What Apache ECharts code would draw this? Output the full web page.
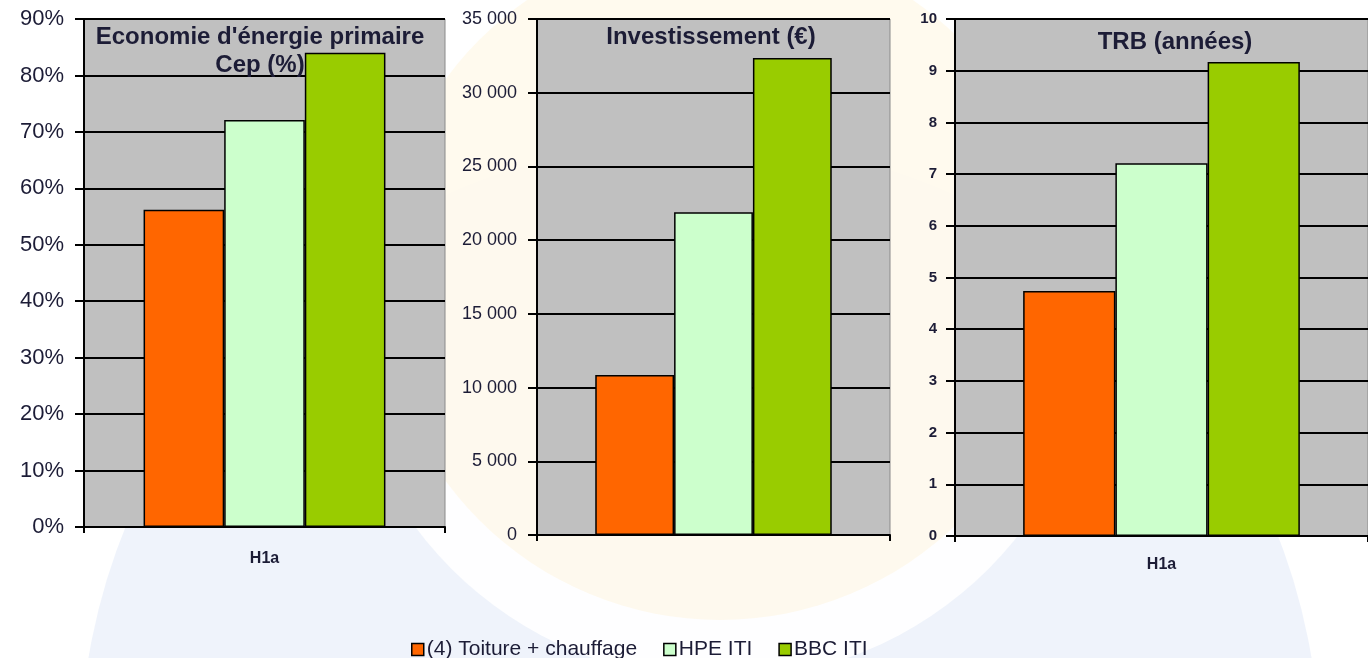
<!DOCTYPE html>
<html>
<head>
<meta charset="utf-8">
<title>H1a</title>
<script src="https://cdn.jsdelivr.net/npm/echarts@6/dist/echarts.min.js"></script>
<style>
  html, body { margin: 0; padding: 0; background: #fff; }
  #main { width: 1368px; height: 658px; }
</style>
</head>
<body>
<div id="main"></div>
<script>
// données
var categories = ['H1a'];
var seriesNames = ['(4) Toiture + chauffage', 'HPE ITI', 'BBC ITI'];
var seriesColors = ['#FF6600', '#CCFFCC', '#99CC00'];
var energySaving = [56.2, 72.1, 84.0];      // %
var investment = [10850, 21900, 32350];     // €
var payback = [4.74, 7.21, 9.17];           // années
var panelTitles = ["Economie d'énergie primaire\nCep (%)", 'Investissement (€)', 'TRB (années)'];

var ink = '#1c1c36';
var font = '"Liberation Sans", Arial, sans-serif';

function thousands(v) {
    return String(v).replace(/\B(?=(\d{3})+(?!\d))/g, ' ');
}

var grids = [
    { left: 84, top: 19, width: 361, height: 508 },
    { left: 537, top: 19, width: 353, height: 516 },
    { left: 955, top: 19, width: 420, height: 517 }
];

var yAxes = [
    { min: 0, max: 90, interval: 10, fmt: function (v) { return v + '%'; }, size: 22, weight: 'normal', margin: 20 },
    { min: 0, max: 35000, interval: 5000, fmt: thousands, size: 18, weight: 'normal', margin: 20 },
    { min: 0, max: 10, interval: 1, fmt: function (v) { return v; }, size: 15, weight: 'bold', margin: 18 }
];

var chart = echarts.init(document.getElementById('main'));

var option = {
    backgroundColor: '#ffffff',
    animation: false,
    graphic: [
        // filigrane discret en fond
        { type: 'circle', z: -10, shape: { cx: 700, cy: 760, r: 620 }, style: { fill: 'rgba(214,226,244,0.4)' } },
        { type: 'circle', z: -9, shape: { cx: 720, cy: 300, r: 380 }, style: { fill: 'rgba(255,255,255,0.9)' } },
        { type: 'circle', z: -8, shape: { cx: 720, cy: 280, r: 340 }, style: { fill: 'rgba(255,240,205,0.35)' } }
    ],
    title: [
        { text: panelTitles[0], left: 255, top: 18, textAlign: 'center',
          textStyle: { fontFamily: font, fontSize: 24, fontWeight: 'bold', color: ink, lineHeight: 28 } },
        { text: panelTitles[1], left: 706, top: 18, textAlign: 'center',
          textStyle: { fontFamily: font, fontSize: 24, fontWeight: 'bold', color: ink, lineHeight: 28 } },
        { text: panelTitles[2], left: 1170, top: 23, textAlign: 'center',
          textStyle: { fontFamily: font, fontSize: 24, fontWeight: 'bold', color: ink, lineHeight: 28 } }
    ],
    legend: {
        data: seriesNames,
        left: 406,
        top: 634,
        icon: 'rect',
        itemWidth: 12,
        itemHeight: 12,
        itemGap: 26,
        itemStyle: { borderColor: '#000', borderWidth: 1.5 },
        textStyle: { fontFamily: font, fontSize: 21, color: ink, padding: [0, 0, 0, -2] }
    },
    grid: grids.map(function (g) {
        return {
            left: g.left, top: g.top, width: g.width, height: g.height,
            show: true, backgroundColor: '#C0C0C0', borderColor: '#8a8a8a', borderWidth: 1
        };
    }),
    xAxis: grids.map(function (g, i) {
        return {
            type: 'category',
            gridIndex: i,
            data: categories,
            axisLine: { lineStyle: { color: '#000', width: 2 } },
            axisTick: { show: true, length: 6, lineStyle: { color: '#000', width: 2 } },
            axisLabel: {
                show: i !== 1,
                margin: i === 0 ? 24 : 21,
                fontFamily: font, fontSize: 16, fontWeight: 'bold', color: ink
            }
        };
    }),
    yAxis: yAxes.map(function (a, i) {
        return {
            type: 'value',
            gridIndex: i,
            min: a.min, max: a.max, interval: a.interval,
            axisLine: { show: true, lineStyle: { color: '#000', width: 2 } },
            axisTick: { show: true, length: 9, lineStyle: { color: '#000', width: 2 } },
            splitLine: { show: true, lineStyle: { color: '#000', width: 2 } },
            axisLabel: {
                formatter: a.fmt, margin: a.margin,
                fontFamily: font, fontSize: a.size, fontWeight: a.weight, color: ink
            }
        };
    }),
    series: []
};

var panelData = [energySaving, investment, payback];
panelData.forEach(function (values, p) {
    values.forEach(function (v, s) {
        option.series.push({
            name: seriesNames[s],
            type: 'bar',
            xAxisIndex: p,
            yAxisIndex: p,
            barGap: '0%',
            barCategoryGap: '33%',
            itemStyle: { color: seriesColors[s], borderColor: '#000', borderWidth: 1.5 },
            data: [v]
        });
    });
});

chart.setOption(option);
window.addEventListener('resize', function () {
    chart.resize();
});
</script>
</body>
</html>
